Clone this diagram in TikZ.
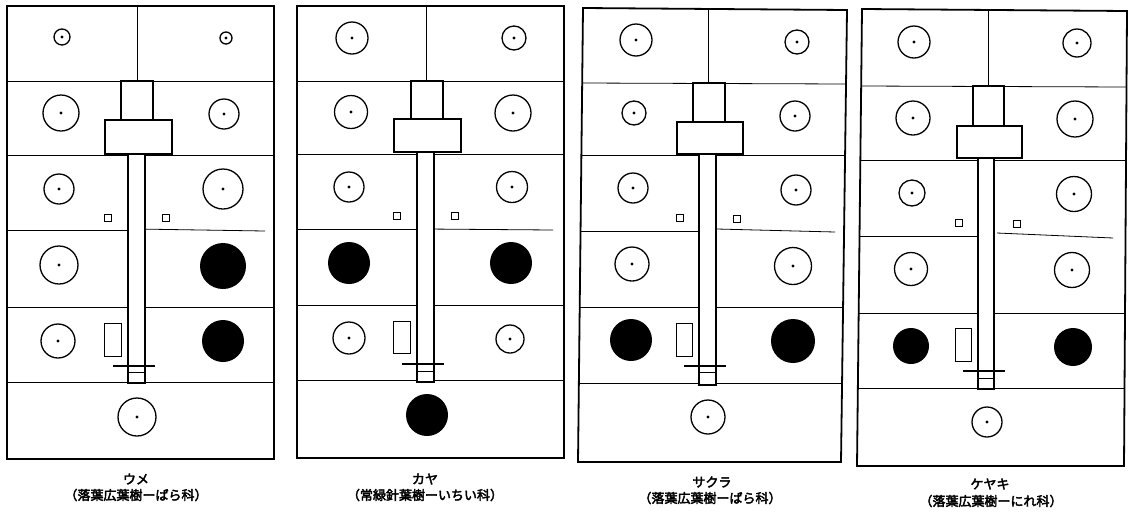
\documentclass[tikz,border=0pt]{standalone}
\usepackage{fontspec}
\newfontfamily\jp{Noto Sans CJK JP}[FakeBold=3]
\tikzset{
 frame/.style={line width=1.8pt},
 rowline/.style={line width=0.8pt},
 ring/.style={circle, draw, line width=1.3pt, inner sep=0pt, fill=white},
 disc/.style={circle, fill=black, inner sep=0pt},
 boxline/.style={line width=1.5pt, fill=white},
 stemline/.style={line width=1.1pt, fill=white},
 sq/.style={draw, line width=1.4pt, minimum size=7pt, inner sep=0pt},
 tag/.style={draw, line width=1pt, inner sep=0pt},
 lab/.style={font=\jp\fontsize{13}{15}\selectfont, inner sep=0pt}
}
\begin{document}
\begin{tikzpicture}[x=1pt,y=-1pt]
\useasboundingbox (0,0) rectangle (1134,515);

% ---------- Panel 1 ----------
\draw[frame] (7,6) rectangle (274,459);
\draw[rowline] (137,6) -- (137,81);
\draw[rowline] (7,81) -- (274,81);
\draw[rowline] (7,155) -- (274,155);
\draw[rowline] (7,230) -- (137,230);
\draw[rowline] (137,229) -- (265,231);
\draw[rowline] (7,307) -- (274,307);
\draw[rowline] (7,382) -- (274,382);
\draw[boxline] (121,81) rectangle (153,120);
\draw[boxline] (105,120) rectangle (172,154);
\draw[stemline] (128,154) rectangle (145,383);
\draw[line width=1.1pt] (113,366) -- (155,366);
\draw[line width=0.8pt] (128,372) -- (145,372);
\draw[line width=1.8pt] (128,383) -- (145,383);
\node[sq] (p1s1) at (108,218) {};
\node[sq] (p1s2) at (166,218) {};
\node[tag, minimum width=17pt, minimum height=33pt] (p1t) at (112.5,339.5) {};
\node[ring, minimum size=16pt] (p1a) at (62,37) {};
\node[ring, minimum size=12pt] (p1b) at (226,38) {};
\node[ring, minimum size=36pt] (p1c) at (61,113) {};
\node[ring, minimum size=30pt] (p1d) at (224,114) {};
\node[ring, minimum size=30pt] (p1e) at (59,189) {};
\node[ring, minimum size=40pt] (p1f) at (223,189) {};
\node[ring, minimum size=38pt] (p1g) at (59,265) {};
\node[disc, minimum size=46pt] (p1h) at (223,266) {};
\node[ring, minimum size=34pt] (p1i) at (58,341) {};
\node[disc, minimum size=42pt] (p1j) at (223,341) {};
\node[ring, minimum size=38pt] (p1k) at (137,417) {};
\node[lab] (l1a) at (136,479) {ウメ};
\node[lab] (l1b) at (136,495) {（落葉広葉樹ーばら科）};

% ---------- Panel 2 ----------
\draw[frame] (297,6) rectangle (564,458);
\draw[rowline] (426,6) -- (426,81);
\draw[rowline] (297,81) -- (564,81);
\draw[rowline] (297,154) -- (564,154);
\draw[rowline] (297,229) -- (426,229);
\draw[rowline] (426,229) -- (553,230);
\draw[rowline] (297,305) -- (564,305);
\draw[rowline] (297,380) -- (564,380);
\draw[boxline] (411,81) rectangle (443,119);
\draw[boxline] (394,119) rectangle (461,152);
\draw[stemline] (417,152) rectangle (434,382);
\draw[line width=1.1pt] (402,364) -- (444,364);
\draw[line width=0.8pt] (417,371) -- (434,371);
\draw[line width=1.8pt] (417,382) -- (434,382);
\node[sq] (p2s1) at (397,216) {};
\node[sq] (p2s2) at (455,216) {};
\node[tag, minimum width=17pt, minimum height=32pt] (p2t) at (401.5,337) {};
\node[ring, minimum size=32pt] (p2a) at (352,38) {};
\node[ring, minimum size=24pt] (p2b) at (514,38) {};
\node[ring, minimum size=33pt] (p2c) at (351,112) {};
\node[ring, minimum size=36pt] (p2d) at (513,113) {};
\node[ring, minimum size=30pt] (p2e) at (349,187) {};
\node[ring, minimum size=31pt] (p2f) at (512,187) {};
\node[disc, minimum size=42pt] (p2g) at (349,263) {};
\node[disc, minimum size=42pt] (p2h) at (511,263) {};
\node[ring, minimum size=32pt] (p2i) at (349,338) {};
\node[ring, minimum size=28pt] (p2j) at (510,339) {};
\node[disc, minimum size=42pt] (p2k) at (427,415) {};
\node[lab] (l2a) at (425,479) {カヤ};
\node[lab] (l2b) at (425,495) {（常緑針葉樹ーいちい科）};

% ---------- Panel 3 ----------
\draw[frame] (583,8) -- (847,10) -- (841,462) -- (578,462) -- cycle;
\draw[rowline] (708,9) -- (708,83);
\draw[rowline] (582,83) -- (846,84);
\draw[rowline] (581,155) -- (845,155);
\draw[rowline] (580,231) -- (708,231);
\draw[rowline] (717,229) -- (835,232);
\draw[rowline] (580,307) -- (844,307);
\draw[rowline] (579,383) -- (843,383);
\draw[boxline] (693,83) rectangle (725,122);
\draw[boxline] (677,122) rectangle (743,154);
\draw[stemline] (699,154) rectangle (716,385);
\draw[line width=1.1pt] (684,366) -- (726,366);
\draw[line width=0.8pt] (699,372) -- (716,372);
\draw[line width=1.8pt] (699,385) -- (716,385);
\node[sq] (p3s1) at (680,218) {};
\node[sq] (p3s2) at (737,219) {};
\node[tag, minimum width=16pt, minimum height=33pt] (p3t) at (684,339.5) {};
\node[ring, minimum size=32pt] (p3a) at (636,40) {};
\node[ring, minimum size=24pt] (p3b) at (797,42) {};
\node[ring, minimum size=24pt] (p3c) at (634,113) {};
\node[ring, minimum size=30pt] (p3d) at (795,116) {};
\node[ring, minimum size=30pt] (p3e) at (633,188) {};
\node[ring, minimum size=30pt] (p3f) at (796,190) {};
\node[ring, minimum size=34pt] (p3g) at (632,264) {};
\node[ring, minimum size=37pt] (p3h) at (793,266) {};
\node[disc, minimum size=42pt] (p3i) at (631,340) {};
\node[disc, minimum size=44pt] (p3j) at (793,341) {};
\node[ring, minimum size=34pt] (p3k) at (708,417) {};
\node[lab] (l3a) at (712,482) {サクラ};
\node[lab] (l3b) at (710,498) {（落葉広葉樹ーばら科）};

% ---------- Panel 4 ----------
\draw[frame] (862,9) -- (1127,11) -- (1124,466) -- (857,466) -- cycle;
\draw[rowline] (988,10) -- (988,86);
\draw[rowline] (861,86) -- (1126,87);
\draw[rowline] (861,160) -- (1126,160);
\draw[rowline] (860,236) -- (988,236);
\draw[rowline] (997,233) -- (1113,238);
\draw[rowline] (859,313) -- (1125,313);
\draw[rowline] (859,388) -- (1125,388);
\draw[boxline] (973,86) rectangle (1004,126);
\draw[boxline] (957,126) rectangle (1022,158);
\draw[stemline] (978,158) rectangle (994,389);
\draw[line width=1.1pt] (963,371) -- (1005,371);
\draw[line width=0.8pt] (978,378) -- (994,378);
\draw[line width=1.8pt] (978,389) -- (994,389);
\node[sq] (p4s1) at (959,223) {};
\node[sq] (p4s2) at (1017,224) {};
\node[tag, minimum width=16pt, minimum height=33pt] (p4t) at (963,344.5) {};
\node[ring, minimum size=32pt] (p4a) at (914,42) {};
\node[ring, minimum size=28pt] (p4b) at (1077,43) {};
\node[ring, minimum size=34pt] (p4c) at (913,118) {};
\node[ring, minimum size=36pt] (p4d) at (1075,119) {};
\node[ring, minimum size=26pt] (p4e) at (912,193) {};
\node[ring, minimum size=35pt] (p4f) at (1074,194) {};
\node[ring, minimum size=33pt] (p4g) at (911,269) {};
\node[ring, minimum size=35pt] (p4h) at (1072,270) {};
\node[disc, minimum size=36pt] (p4i) at (911,346) {};
\node[disc, minimum size=38pt] (p4j) at (1073,347) {};
\node[ring, minimum size=30pt] (p4k) at (987,422) {};
\node[lab] (l4a) at (990,484) {ケヤキ};
\node[lab] (l4b) at (991,501) {（落葉広葉樹ーにれ科）};

% centre dots of the open circles
\foreach \n in {p1a,p1b,p1c,p1d,p1e,p1f,p1g,p1i,p1k,
                p2a,p2b,p2c,p2d,p2e,p2f,p2i,p2j,
                p3a,p3b,p3c,p3d,p3e,p3f,p3g,p3h,p3k,
                p4a,p4b,p4c,p4d,p4e,p4f,p4g,p4h,p4k}
  \fill (\n.center) circle (1.7pt);
\end{tikzpicture}
\end{document}
